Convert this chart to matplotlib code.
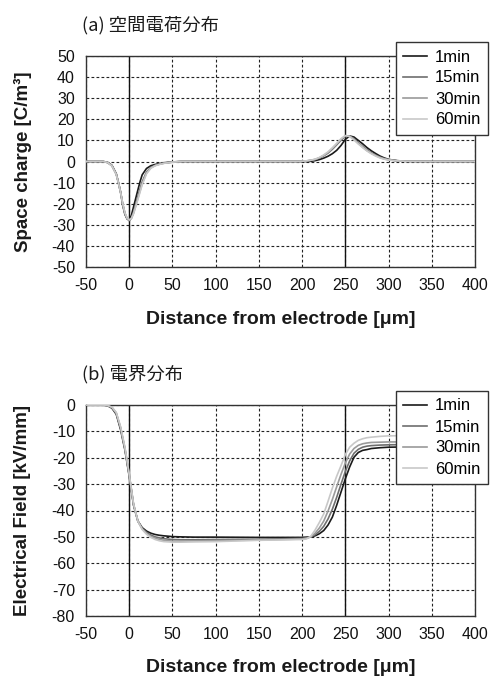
import matplotlib
matplotlib.use("Agg")
import matplotlib.pyplot as plt

plt.rcParams['font.family'] = ['Liberation Sans', 'Noto Sans CJK JP', 'DejaVu Sans']
plt.rcParams['axes.unicode_minus'] = False

series_labels = ["1min", "15min", "30min", "60min"]
series_colors = ["#1a1a1a", "#6e6e6e", "#9a9a9a", "#c8c8c8"]

# ---- (a) space charge ----
x_a = [-50, -30, -25, -20, -15, -12.5, -10, -7.5, -5, -2.5, 0, 2.5, 5, 7.5, 10, 12.5, 15, 20, 25, 30, 35, 40, 50, 60,
       100, 150, 195, 200, 205, 210, 215, 220, 225, 230, 235, 240, 245, 250, 255, 260, 265,
       270, 275, 280, 285, 290, 295, 300, 310, 320, 350, 400]
q_1 = [0, 0, -0.4, -1.8, -5.8, -10, -14.5, -20.8, -25, -27.2, -27.8, -25.5, -21.5, -17.5, -13.5, -9.6, -6.3, -3.3, -2.0, -1.4, -1.0, -0.6, -0.2, 0,
       0, 0, 0, 0, 0, 0.1, 0.4, 0.9, 1.6, 2.5, 3.7, 5.3, 7.6, 10.5, 12.1, 11.6, 10.0,
       8.4, 6.6, 5.1, 3.8, 2.6, 1.7, 1.0, 0.4, 0.1, 0, 0]
q_15 = [0, 0, -0.5, -2.0, -6.0, -10, -14.5, -20.2, -24.6, -27, -28.0, -26.8, -24, -20.3, -16.6, -13, -9.6, -5.0, -2.8, -1.8, -1.2, -0.8, -0.3, 0,
        0, 0, 0, 0.1, 0.2, 0.5, 0.9, 1.6, 2.7, 4.0, 5.8, 7.9, 10.1, 11.9, 12.1, 10.8, 8.9,
        7.1, 5.5, 4.1, 3.0, 2.1, 1.4, 0.9, 0.3, 0.1, 0, 0]
q_30 = [0, 0, -0.5, -2.0, -6.0, -10, -14.5, -20.0, -24.5, -27, -27.9, -27, -24.5, -21, -17.5, -14, -10.5, -5.5, -3.0, -1.9, -1.3, -0.8, -0.3, 0,
        0, 0, 0, 0.1, 0.3, 0.6, 1.0, 1.8, 2.9, 4.3, 6.2, 8.3, 10.5, 12.2, 12.0, 10.5, 8.6,
        6.8, 5.2, 3.9, 2.8, 1.9, 1.2, 0.8, 0.3, 0.1, 0, 0]
q_60 = [0, 0, -0.5, -2.1, -6.2, -10.2, -14.6, -20.0, -24.3, -26.8, -27.6, -27, -24.8, -21.5, -18, -14.5, -11, -5.8, -3.2, -2.0, -1.4, -0.9, -0.3, 0,
        0, 0, 0, 0.1, 0.3, 0.6, 1.1, 1.9, 3.1, 4.6, 6.5, 8.6, 10.8, 12.3, 11.8, 10.2, 8.3,
        6.6, 5.0, 3.7, 2.6, 1.7, 1.1, 0.7, 0.3, 0.1, 0, 0]

# ---- (b) electric field ----
x_b = [-50, -30, -25, -20, -15, -10, -5, 0, 5, 10, 15, 20, 25, 30, 35, 40, 50, 60, 75,
       100, 150, 200, 205, 210, 215, 220, 225, 230, 235, 240, 245, 250, 255, 260, 265, 270,
       275, 280, 290, 300, 320, 350, 400]
e_1 = [0, 0, -0.3, -1.2, -3.5, -9.3, -17, -27, -38, -44, -46.5, -47.8, -48.6, -49.1, -49.4, -49.6, -49.9, -50.0, -50.1,
       -50.1, -50.2, -50.2, -50.1, -50.0, -49.6, -48.8, -47.6, -45.5, -42.5, -38.0, -33.0, -28.0, -23.5, -19.8, -18.0, -17.2,
       -16.9, -16.5, -16.2, -16.0, -15.9, -15.9, -15.9]
e_15 = [0, 0, -0.2, -1.0, -3.2, -8.8, -16.6, -26.6, -37.8, -44, -46.8, -48.3, -49.3, -50.0, -50.4, -50.7, -51.0, -51.1, -51.1,
        -51.0, -50.9, -50.6, -50.4, -50.0, -49.2, -47.9, -46.0, -43.2, -39.5, -35.0, -30.0, -25.2, -21.2, -18.3, -16.8, -16.0,
        -15.6, -15.4, -15.2, -15.1, -15.0, -15.0, -15.0]
e_30 = [0, 0, -0.2, -0.9, -3.0, -8.5, -16.3, -26.4, -37.6, -44, -47.0, -48.7, -49.8, -50.5, -51.0, -51.3, -51.6, -51.6, -51.5,
        -51.4, -51.2, -50.8, -50.5, -50.0, -48.6, -46.6, -44.0, -40.2, -35.8, -31.0, -26.3, -22.0, -18.6, -16.5, -15.3, -14.7,
        -14.4, -14.2, -14.1, -14.0, -14.0, -14.0, -14.0]
e_60 = [0, 0, -0.2, -0.8, -2.8, -8.2, -16.0, -26.2, -37.5, -44, -47.2, -49.0, -50.2, -51.0, -51.5, -51.8, -52.0, -52.0, -51.9,
        -51.8, -51.3, -51.0, -50.8, -49.8, -47.4, -44.5, -41.3, -36.5, -31.5, -27.0, -23.0, -18.8, -16.0, -14.5, -13.4, -12.8,
        -12.4, -12.2, -11.9, -11.7, -11.6, -11.6, -11.6]

x_ticks = [-50, 0, 50, 100, 150, 200, 250, 300, 350, 400]
ya_ticks = [-50, -40, -30, -20, -10, 0, 10, 20, 30, 40, 50]
yb_ticks = [-80, -70, -60, -50, -40, -30, -20, -10, 0]

W, H = 491, 677
fig = plt.figure(figsize=(W / 100, H / 100), dpi=100)

def axpos(l, t, r, b):
    return [l / W, 1 - b / H, (r - l) / W, (b - t) / H]

panels = [
    dict(pos=axpos(86, 56, 475, 267), x=x_a, ys=[q_1, q_15, q_30, q_60], yt=ya_ticks,
         ylim=(-50, 50), ylabel="Space charge [C/m³]", title="(a) 空間電荷分布",
         title_y=25, xlabel_y=320, ylabel_y=162, leg_top=42),
    dict(pos=axpos(86, 405, 475, 616), x=x_b, ys=[e_1, e_15, e_30, e_60], yt=yb_ticks,
         ylim=(-80, 0), ylabel="Electrical Field [kV/mm]", title="(b) 電界分布",
         title_y=374, xlabel_y=668, ylabel_y=510, leg_top=391),
]

for p in panels:
    ax = fig.add_axes(p["pos"])
    ax.set_xlim(-50, 400)
    ax.set_ylim(*p["ylim"])
    ax.set_xticks(x_ticks)
    ax.set_yticks(p["yt"])
    ax.grid(True, color="#222222", linestyle=(0, (2.5, 2.0)), linewidth=0.8)
    ax.set_axisbelow(True)
    ax.axvline(0, color="#111111", linewidth=1.0, zorder=1.5)
    ax.axvline(250, color="#111111", linewidth=1.0, zorder=1.5)
    for ys, c, lab in zip(p["ys"], series_colors, series_labels):
        ax.plot(p["x"], ys, color=c, linewidth=1.2, label=lab, zorder=3)
    ax.tick_params(length=0, labelsize=11.5, pad=8, colors="#111111")
    for s in ax.spines.values():
        s.set_color("#333333")
        s.set_linewidth(1.0)
    fig.text(22.5 / W, 1 - p["ylabel_y"] / H, p["ylabel"], rotation=90,
             fontsize=13.5, fontweight="bold", ha="center", va="center", color="#1a1a1a")
    fig.text((86 + 475) / 2 / W, 1 - p["xlabel_y"] / H, "Distance from electrode [μm]",
             fontsize=14, fontweight="bold", ha="center", va="center", color="#1a1a1a")
    fig.text(82 / W, 1 - p["title_y"] / H, p["title"], fontsize=13.2,
             family=["Noto Sans CJK JP", "Liberation Sans"], ha="left", va="center", color="#1a1a1a")
    leg = ax.legend(loc="upper right", bbox_to_anchor=(488 / W, 1 - p["leg_top"] / H),
                    bbox_transform=fig.transFigure, fontsize=12, frameon=True, fancybox=False,
                    edgecolor="#333333", framealpha=1, handlelength=1.4, handletextpad=0.5,
                    labelspacing=0.36, borderpad=0.45, borderaxespad=0)
    leg.get_frame().set_linewidth(1.0)

fig.savefig("out.png", dpi=100)
